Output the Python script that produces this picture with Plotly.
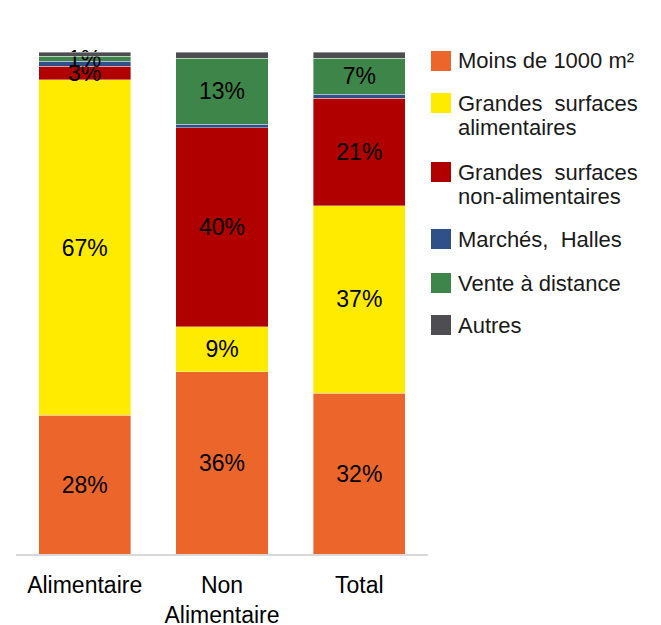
import plotly.graph_objects as go

# Répartition des dépenses par forme de vente (%)
categories = ["Alimentaire", "Non<br>Alimentaire", "Total"]

moins_1000 = [27.6, 36.3, 32.0]
gs_alimentaires = [66.9, 9.0, 37.4]
gs_non_alimentaires = [2.7, 39.6, 21.4]
marches_halles = [1.0, 0.7, 0.8]
vente_distance = [1.0, 13.2, 7.2]
autres = [0.8, 1.2, 1.2]

series_names = [
    "Moins de 1000 m²",
    "Grandes  surfaces<br>alimentaires",
    "Grandes  surfaces<br>non-alimentaires",
    "Marchés,  Halles",
    "Vente à distance",
    "Autres",
]
series_values = [moins_1000, gs_alimentaires, gs_non_alimentaires,
                 marches_halles, vente_distance, autres]
series_colors = ["#EC662C", "#FFEB00", "#B00000", "#2F5089", "#3D8549", "#4D4D52"]
series_labelled = [True, True, True, False, True, False]

FONT = "Liberation Sans, Arial, sans-serif"

W, H = 661, 625
M_L, M_R, M_T, M_B = 16, 233, 52, 71
plot_w = W - M_L - M_R
plot_h = H - M_T - M_B


def px_x(px):
    return (px - M_L) / plot_w


def px_y(py):
    return (H - M_B - py) / plot_h


fig = go.Figure()
for name, vals, color, labelled in zip(series_names, series_values,
                                       series_colors, series_labelled):
    fig.add_trace(go.Bar(
        x=categories,
        y=vals,
        name=name,
        marker=dict(color=color, line=dict(color="rgba(255,255,255,0.55)", width=0.7)),
        texttemplate="%{y:.0f}%" if labelled else None,
        textposition="inside" if labelled else "none",
        insidetextanchor="middle",
        textangle=0,
        cliponaxis=False,
        textfont=dict(family=FONT, size=23, color="black"),
        showlegend=False,
        hoverinfo="skip",
    ))

# Légende à droite du graphique
legend_rows = [61, 103, 172, 239, 283, 325]
LINE_STEP = 25
shapes = []
annotations = []
for name, color, yc in zip(series_names, series_colors, legend_rows):
    shapes.append(dict(
        type="rect", xref="paper", yref="paper",
        x0=px_x(431), x1=px_x(451), y0=px_y(yc - 10), y1=px_y(yc + 10),
        fillcolor=color, line=dict(width=0),
    ))
    for i, line in enumerate(name.split("<br>")):
        annotations.append(dict(
            xref="paper", yref="paper",
            x=px_x(456), y=px_y(yc + i * LINE_STEP),
            xanchor="left", yanchor="middle", align="left",
            text=line, showarrow=False,
            font=dict(family=FONT, size=22, color="#1a1a1a"),
        ))

fig.update_layout(
    width=W, height=H,
    margin=dict(l=M_L, r=M_R, t=M_T, b=M_B, autoexpand=False),
    barmode="stack",
    bargap=0.33,
    plot_bgcolor="white",
    paper_bgcolor="white",
    uniformtext=dict(minsize=23, mode="show"),
    shapes=shapes,
    annotations=annotations,
    showlegend=False,
    xaxis=dict(
        showline=True, linecolor="#d9d9d9", linewidth=1.5,
        ticks="", ticklabelstandoff=10, automargin=False,
        tickfont=dict(family=FONT, size=23, color="black"),
        showgrid=False,
    ),
    yaxis=dict(
        range=[0, 100], visible=False, showgrid=False,
    ),
)

fig.write_html("out.html")
